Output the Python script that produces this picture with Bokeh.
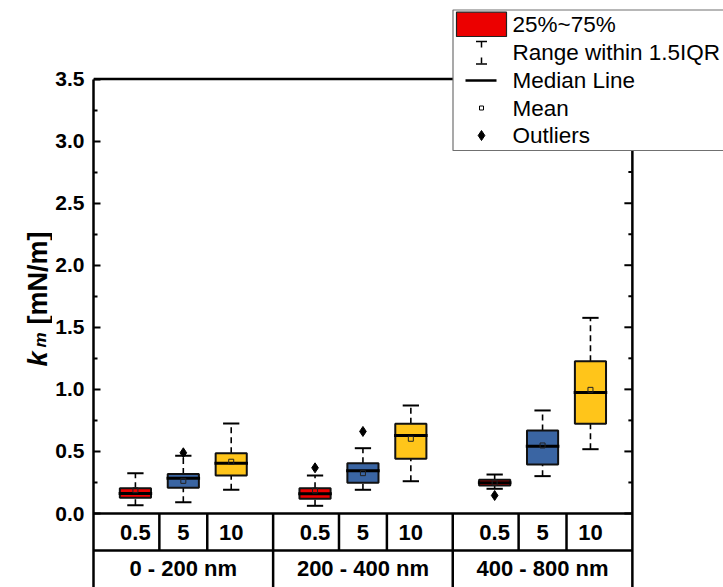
import math
from bokeh.plotting import figure
from bokeh.layouts import row
from bokeh.models import Range1d, FixedTicker, PrintfTickFormatter
from bokeh.core.properties import value
from bokeh.embed import file_html
from bokeh.resources import INLINE

# ---------------- data ----------------
groups = ["0 - 200 nm", "200 - 400 nm", "400 - 800 nm"]
concentrations = ["0.5", "5", "10"]
series_colors = ["#EC0000", "#3A65A3", "#FFC51A"]

# nine boxes, group-major order
q1 = [0.126, 0.208, 0.306, 0.118, 0.247, 0.441, 0.226, 0.395, 0.722]
q3 = [0.204, 0.318, 0.486, 0.204, 0.405, 0.723, 0.271, 0.669, 1.227]
median = [0.162, 0.283, 0.404, 0.159, 0.344, 0.628, 0.247, 0.542, 0.975]
mean = [0.188, 0.263, 0.417, 0.185, 0.325, 0.602, 0.249, 0.548, 0.996]
whisk_lo = [0.067, 0.091, 0.191, 0.062, 0.191, 0.260, 0.199, 0.301, 0.518]
whisk_hi = [0.325, 0.465, 0.725, 0.306, 0.526, 0.870, 0.314, 0.830, 1.576]
outlier_box = [1, 3, 4, 6]
outlier_val = [0.489, 0.368, 0.661, 0.145]

y_ticks = [0.0, 0.5, 1.0, 1.5, 2.0, 2.5, 3.0, 3.5]
y_minor = [0.25, 0.75, 1.25, 1.75, 2.25, 2.75, 3.25]
legend_labels = ["25%~75%", "Range within 1.5IQR", "Median Line", "Mean", "Outliers"]
y_label_parts = ["k", "m", "[mN/m]"]

# ---------------- layout ----------------
W, H = 723, 587
LAB_W = 52           # width of the strip holding the y-axis title
LEFT = 93            # plot frame left (page px)
PLOT_BOTTOM = 513    # y=0 (px)
PLOT_TOP = 78.5      # y=3.5 (px)
SX = 47.9            # px per x unit
Y_MAX = 3.5
SY = (PLOT_BOTTOM - PLOT_TOP) / Y_MAX
X0 = 0.125
GROUP_STEP = 3.75

def fx(px):  # page px -> data x
    return X0 + (px - LEFT) / SX

def fy(py):  # page px -> data y
    return (PLOT_BOTTOM - py) / SY

# ---------------- y-axis title strip ----------------
lab = figure(width=LAB_W, height=H, output_backend="svg", toolbar_location=None,
             x_range=Range1d(0, LAB_W), y_range=Range1d(H, 0),
             min_border=0, x_axis_location=None, y_axis_location=None)
lab.outline_line_color = None
lab.grid.visible = False
lab.background_fill_color = "white"
lab.border_fill_color = "white"
lab_specs = [(37, 366, "27px", "bold italic"),
             (40, 347, "17px", "bold italic"),
             (37, 324, "27px", "bold")]
for txt, (bx, by, fs, st) in zip(y_label_parts, lab_specs):
    lab.text(x=[bx], y=[by], text=[txt], angle=math.pi / 2,
             text_font=value("Liberation Sans"), text_font_size=fs, text_font_style=st,
             text_align="left", text_baseline="alphabetic", text_color="black")

# ---------------- main plot ----------------
pos = [g * GROUP_STEP + k + 1 for g in range(len(groups)) for k in range(len(concentrations))]
colors = [series_colors[k] for g in range(len(groups)) for k in range(len(concentrations))]
XR = pos[-1] + (pos[0] - X0)

p = figure(width=W - LAB_W, height=H, output_backend="svg", toolbar_location=None,
           x_range=Range1d(X0, fx(W)), y_range=Range1d(fy(H), fy(0)),
           min_border_left=LEFT - LAB_W, min_border_right=0, min_border_top=0, min_border_bottom=0,
           x_axis_location=None, y_axis_location="left")
p.outline_line_color = None
p.xgrid.visible = False
p.ygrid.visible = False
p.background_fill_color = "white"
p.border_fill_color = "white"

ax = p.yaxis[0]
ax.ticker = FixedTicker(ticks=y_ticks, minor_ticks=y_minor)
ax.formatter = PrintfTickFormatter(format="%.1f")
ax.bounds = (fy(H), Y_MAX)
ax.axis_line_width = 2.5
ax.axis_line_color = "black"
ax.major_tick_in = 7
ax.major_tick_out = 0
ax.minor_tick_in = 4
ax.minor_tick_out = 0
ax.major_tick_line_width = 2
ax.minor_tick_line_width = 2
ax.major_label_standoff = 9
ax.major_label_text_font = "Liberation Sans"
ax.major_label_text_font_style = "bold"
ax.major_label_text_font_size = "21px"
ax.major_label_text_color = "black"

# ---------------- frame lines ----------------
p.segment(x0=[X0, X0], y0=[Y_MAX, 0], x1=[XR, XR], y1=[Y_MAX, 0], line_color="black", line_width=2.5)
p.segment(x0=[XR], y0=[fy(H)], x1=[XR], y1=[Y_MAX], line_color="black", line_width=2.5)
p.segment(x0=[XR] * len(y_ticks), y0=y_ticks, x1=[XR - 8 / SX] * len(y_ticks), y1=y_ticks,
          line_color="black", line_width=2)
p.segment(x0=[XR] * len(y_minor), y0=y_minor, x1=[XR - 4 / SX] * len(y_minor), y1=y_minor,
          line_color="black", line_width=2)

# ---------------- boxes ----------------
BOX_W = 0.65
CAP_W = 0.34
MED_W = 0.70
p.segment(x0=pos, y0=q3, x1=pos, y1=whisk_hi, line_color="black", line_width=1.6, line_dash="6 4")
p.segment(x0=pos, y0=whisk_lo, x1=pos, y1=q1, line_color="black", line_width=1.6, line_dash="6 4")
p.vbar(x=pos, top=q3, bottom=q1, width=BOX_W, fill_color=colors, line_color="#111111", line_width=2)
p.segment(x0=[x - MED_W / 2 for x in pos], y0=median, x1=[x + MED_W / 2 for x in pos], y1=median,
          line_color="black", line_width=3)
p.segment(x0=[x - CAP_W / 2 for x in pos], y0=whisk_hi, x1=[x + CAP_W / 2 for x in pos], y1=whisk_hi,
          line_color="black", line_width=2)
p.segment(x0=[x - CAP_W / 2 for x in pos], y0=whisk_lo, x1=[x + CAP_W / 2 for x in pos], y1=whisk_lo,
          line_color="black", line_width=2)
p.scatter(x=pos, y=mean, marker="square", size=5, fill_color=None, line_color="#222222", line_width=1)
p.scatter(x=[pos[i] for i in outlier_box], y=outlier_val, marker="diamond", size=10,
          fill_color="black", line_color="black")

# ---------------- category table ----------------
ROW1 = fy(550)
y_bot = fy(H)
p.segment(x0=[X0], y0=[ROW1], x1=[XR], y1=[ROW1], line_color="black", line_width=2.5)
cell_edges = [(pos[i] + pos[i + 1]) / 2 for i in range(len(pos) - 1)]
group_edges = [(pos[3 * g - 1] + pos[3 * g]) / 2 for g in range(1, len(groups))]
inner = [e for e in cell_edges if e not in group_edges]
p.segment(x0=inner, y0=[0] * len(inner), x1=inner, y1=[ROW1] * len(inner), line_color="black", line_width=2.5)
p.segment(x0=group_edges, y0=[0] * len(group_edges), x1=group_edges, y1=[y_bot] * len(group_edges),
          line_color="black", line_width=2.5)
p.text(x=pos, y=[fy(532)] * len(pos), text=concentrations * len(groups),
       text_font=value("Liberation Sans"), text_font_style="bold", text_font_size="22px",
       text_align="center", text_baseline="middle", text_color="black")
gx = [(pos[3 * g] + pos[3 * g + 2]) / 2 for g in range(len(groups))]
p.text(x=gx, y=[fy(568)] * len(groups), text=groups,
       text_font=value("Liberation Sans"), text_font_style="bold", text_font_size="22px",
       text_align="center", text_baseline="middle", text_color="black")

# ---------------- legend ----------------
p.quad(left=[fx(452.5)], right=[fx(W + 20)], top=[fy(9.5)], bottom=[fy(150)],
       fill_color="white", line_color="#707070", line_width=1.2)
cx = fx(481)
p.quad(left=[fx(456)], right=[fx(506)], top=[fy(11.7)], bottom=[fy(36)],
       fill_color=series_colors[0], line_color="#222222", line_width=1.2)
p.segment(x0=[fx(475.5), fx(475.5)], y0=[fy(41), fy(63.5)], x1=[fx(486.5), fx(486.5)], y1=[fy(41), fy(63.5)],
          line_color="black", line_width=1.5)
p.segment(x0=[cx], y0=[fy(41)], x1=[cx], y1=[fy(63.5)], line_color="black", line_width=1.5,
          line_dash="6 10")
p.segment(x0=[fx(465)], y0=[fy(80)], x1=[fx(496)], y1=[fy(80)], line_color="black", line_width=2.5)
p.scatter(x=[cx], y=[fy(107.5)], marker="square", size=4, fill_color=None, line_color="black", line_width=1)
p.scatter(x=[cx], y=[fy(135)], marker="diamond", size=10, fill_color="black", line_color="black")
leg_y = [fy(v) for v in (23.5, 52, 80, 107.5, 135)]
p.text(x=[fx(512)] * len(legend_labels), y=leg_y, text=legend_labels,
       text_font=value("Liberation Sans"), text_font_size="22.5px",
       text_align="left", text_baseline="middle", text_color="black")

layout = row(lab, p, spacing=0)
open("out.html", "w").write(file_html(layout, INLINE))
